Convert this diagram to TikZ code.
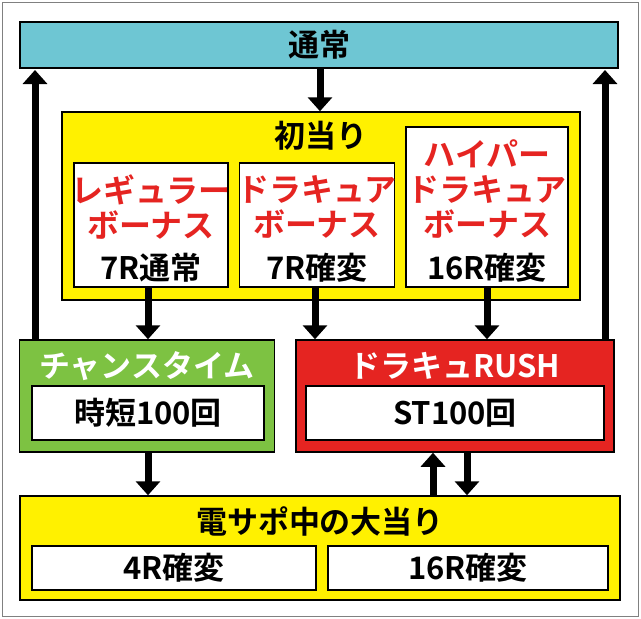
\documentclass[tikz,border=0pt]{standalone}
\usepackage{fontspec}
\setmainfont{Noto Sans CJK JP}[BoldFont={* Bold}]
\usetikzlibrary{arrows.meta}
\definecolor{cy}{HTML}{6EC6D3}
\definecolor{yl}{HTML}{FFF100}
\definecolor{gr}{HTML}{7DC242}
\definecolor{rd}{HTML}{E52421}
\tikzset{
 box/.style={draw=black,line width=1.5pt},
 arr/.style={line width=7pt,-{Triangle[length=14pt,width=24pt]}},
 tx/.style={font=\bfseries\fontsize{31}{34}\selectfont},
 rt/.style={font=\bfseries\fontsize{32}{35}\selectfont,text=rd,align=center},
}
\begin{document}
\begin{tikzpicture}[x=1pt,y=-1pt]
\useasboundingbox (0,0) rectangle (641,619);
\draw[gray,line width=1pt,fill=white] (2,2) rectangle (638,616);
\node[box,fill=cy,minimum width=598,minimum height=46,tx] (top) at (319,45) {通常};
\node[box,fill=yl,minimum width=518,minimum height=188] (init) at (321,206) {};
\node[tx] (inittitle) at (321,136) {初当り};
\node[box,fill=white,minimum width=154,minimum height=124] (b1) at (151,225) {};
\node[box,fill=white,minimum width=155,minimum height=124] (b2) at (317,225) {};
\node[box,fill=white,minimum width=162,minimum height=160] (b3) at (487,207) {};
\node[rt] (t1) at (151,207) {レギュラー\\ボーナス};
\node[tx] (s1) at (151,268) {7R通常};
\node[rt] (t2) at (317,207) {ドラキュア\\ボーナス};
\node[tx] (s2) at (317,268) {7R確変};
\node[rt] (t3) at (487,189) {ハイパー\\ドラキュア\\ボーナス};
\node[tx] (s3) at (487,268) {16R確変};
\node[box,fill=gr,minimum width=255,minimum height=112] (ct) at (147,396) {};
\node[tx,text=white] (ctt) at (147,366) {チャンスタイム};
\node[box,fill=white,minimum width=232,minimum height=54,tx] (ctin) at (148,413) {時短100回};
\node[box,fill=rd,minimum width=318,minimum height=112] (rush) at (455,396) {};
\node[tx,text=white] (rusht) at (455,366) {ドラキュRUSH};
\node[box,fill=white,minimum width=298,minimum height=54,tx] (rin) at (455,413) {ST100回};
\node[box,fill=yl,minimum width=600,minimum height=104] (bot) at (320,548) {};
\node[tx] (bott) at (320,521) {電サポ中の大当り};
\node[box,fill=white,minimum width=284,minimum height=44,tx] (bl) at (174,568) {4R確変};
\node[box,fill=white,minimum width=280,minimum height=44,tx] (br) at (468,568) {16R確変};
\coordinate (la) at (35,340);
\coordinate (ra) at (605,340);
\draw[arr] (la) -- (35,70);
\draw[arr] (ra) -- (605,70);
\draw[arr] (320,68) -- (init.north -| 320,0);
\draw[arr] (148,287) -- (ct.north -| 148,0);
\draw[arr] (315,287) -- (rush.north -| 315,0);
\draw[arr] (487,287) -- (rush.north -| 487,0);
\draw[arr] (148,452) -- (bot.north -| 148,0);
\draw[arr] (433,496) -- (rush.south -| 433,0);
\draw[arr] (467,452) -- (bot.north -| 467,0);
\end{tikzpicture}
\end{document}
